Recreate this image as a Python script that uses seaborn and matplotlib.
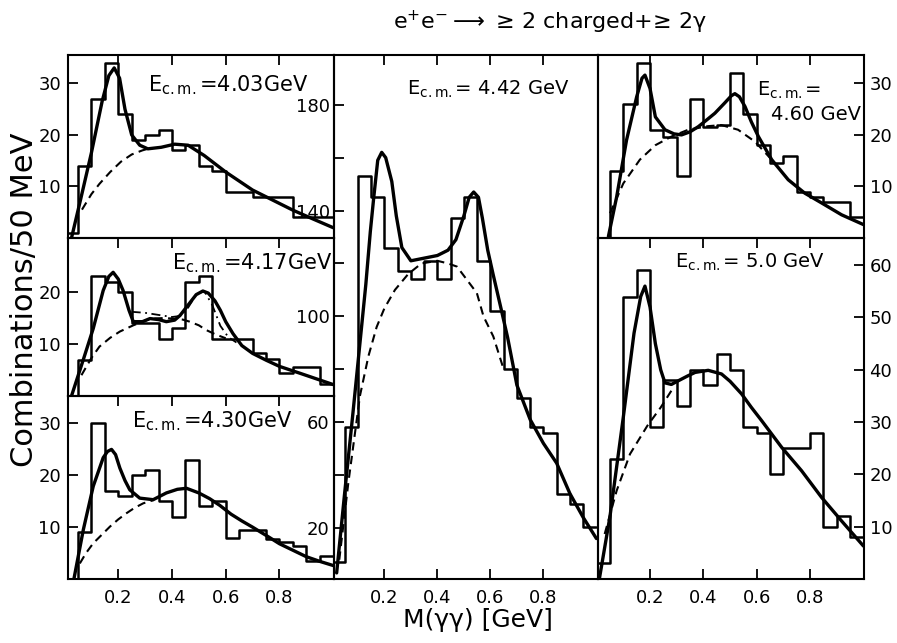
import numpy as np
import pandas as pd
import matplotlib
matplotlib.use("Agg")
import matplotlib.pyplot as plt
import seaborn as sns

sns.set_theme(style="white")
plt.rcParams["font.family"] = ["DejaVu Sans"]
plt.rcParams["mathtext.fontset"] = "dejavusans"

# ---------------- data ----------------
bin_edges = [0.00, 0.05, 0.10, 0.15, 0.20, 0.25, 0.30, 0.35, 0.40, 0.45, 0.50,
             0.55, 0.60, 0.65, 0.70, 0.75, 0.80, 0.85, 0.90, 0.95, 1.00]

# histogram contents (combinations / 50 MeV)
counts_403 = [1, 14, 27, 34, 24, 19, 20, 21, 17, 18, 14, 13, 9, 9, 8, 8, 8, 4, 4, 4]
counts_417 = [0, 7, 23, 22, 20, 14, 14, 11, 13, 22, 23, 11, 11, 11, 8.2, 7.2, 4.4, 5.6, 5.6, 2.3]
counts_430 = [0, 9, 30, 17, 16, 20, 21, 15, 12, 23, 14, 15, 8, 9.5, 9.5, 7.7, 7.1, 6.4, 3.5, 4.5]
counts_442 = [7, 58, 153, 145, 126, 117, 114, 121, 114, 137, 145, 121, 102, 80, 69, 58, 56, 33, 29, 20.5]
counts_460 = [0, 13, 26, 34, 21, 19.5, 12, 27, 21.5, 22, 32, 24, 18, 14.5, 16, 9, 8, 7, 7, 4]
counts_500 = [3, 23, 54, 59, 29, 38, 33, 40, 37, 43, 40, 29, 28, 20, 25, 25, 28, 10, 12, 8]

# fitted curves (solid) and backgrounds (dashed)
fit_403_x = [0.026, 0.06, 0.10, 0.14, 0.165, 0.185, 0.205, 0.225, 0.25, 0.28, 0.31, 0.36, 0.41, 0.46, 0.52, 0.60, 0.70, 0.80, 0.85, 0.92, 1.0]
fit_403_y = [0, 7.5, 16.5, 26.5, 31.5, 33, 31, 25, 20, 18, 17.3, 17.6, 18.2, 18, 16, 12.8, 9.3, 6.7, 5.4, 3.8, 2]
bkg_403_x = [0.065, 0.10, 0.13, 0.17, 0.21, 0.25, 0.29, 0.31]
bkg_403_y = [5.5, 8.5, 10.5, 12.8, 14.8, 16.2, 17.0, 17.3]

fit_417_x = [0.026, 0.07, 0.107, 0.144, 0.165, 0.181, 0.20, 0.218, 0.24, 0.256, 0.29, 0.318, 0.35, 0.379, 0.41, 0.43, 0.46, 0.49, 0.515, 0.535, 0.56, 0.58, 0.60, 0.627, 0.66, 0.70, 0.75, 0.80, 0.875, 1.0]
fit_417_y = [0, 7, 13, 20.3, 23, 23.8, 22.5, 20.3, 16.5, 14.3, 14.3, 14.9, 14.7, 14.3, 14.6, 15.5, 17.5, 19.5, 20.2, 19.8, 18.3, 16.5, 14.3, 12, 9.7, 8.2, 6.9, 5.7, 4.4, 2.2]
bkg_417_x = [0.063, 0.10, 0.13, 0.17, 0.206, 0.256, 0.30, 0.33, 0.37, 0.404, 0.44, 0.466, 0.50, 0.527, 0.56, 0.60]
bkg_417_y = [4, 7.3, 9.5, 11.2, 12.4, 13.6, 14.5, 14.9, 15.0, 14.9, 14.7, 14.3, 13.6, 12.7, 11.9, 11.1]
alt_417_x = [0.25, 0.30, 0.35, 0.40, 0.43, 0.46, 0.49, 0.52, 0.55, 0.58, 0.61, 0.64]
alt_417_y = [16.2, 16.0, 15.6, 15.2, 15.4, 17.0, 19.5, 20.2, 17.5, 13.5, 11.3, 10.3]

fit_430_x = [0.035, 0.07, 0.107, 0.144, 0.16, 0.175, 0.19, 0.206, 0.225, 0.243, 0.28, 0.33, 0.379, 0.42, 0.454, 0.50, 0.54, 0.578, 0.62, 0.66, 0.70, 0.76, 0.80, 0.84, 0.90, 0.95, 1.0]
fit_430_y = [0, 9.5, 17.9, 23.4, 24.6, 25, 24, 21.4, 19, 17.2, 15.6, 15.3, 16.6, 17.3, 17.5, 16.6, 15.5, 14.2, 12.5, 11.2, 10.0, 8.1, 6.8, 5.8, 4.3, 3.4, 2.6]
bkg_430_x = [0.057, 0.08, 0.107, 0.14, 0.169, 0.20, 0.231, 0.26, 0.293, 0.33]
bkg_430_y = [3, 5, 6.9, 8.6, 10.1, 11.5, 12.7, 13.7, 14.6, 15.2]

fit_442_x = [0.02, 0.05, 0.08, 0.11, 0.13, 0.147, 0.16, 0.175, 0.19, 0.205, 0.228, 0.245, 0.266, 0.30, 0.35, 0.40, 0.44, 0.47, 0.50, 0.52, 0.537, 0.555, 0.57, 0.59, 0.61, 0.64, 0.665, 0.70, 0.75, 0.80, 0.85, 0.90, 0.95, 1.0]
fit_442_y = [3, 33, 62, 92, 112, 132, 145, 159, 162, 160, 151, 138, 126, 121, 122, 123, 125, 129, 138, 145, 147, 145, 137, 125, 116, 103, 92, 74, 61, 52, 44.5, 33, 24, 16]
bkg_442_x = [0.03, 0.064, 0.108, 0.14, 0.171, 0.20, 0.24, 0.29, 0.34, 0.40, 0.44, 0.474, 0.51, 0.549, 0.574, 0.611, 0.65]
bkg_442_y = [8, 37, 70, 85, 96, 103, 110, 116, 120, 121, 120, 118.8, 114, 108.8, 100, 92.4, 80]

fit_460_x = [0.044, 0.075, 0.112, 0.15, 0.17, 0.181, 0.20, 0.22, 0.256, 0.29, 0.318, 0.35, 0.381, 0.41, 0.443, 0.48, 0.505, 0.518, 0.535, 0.556, 0.58, 0.606, 0.656, 0.718, 0.78, 0.843, 0.918, 1.0]
fit_460_y = [0.3, 8, 19, 27.4, 31, 31.6, 29, 23.5, 21, 20.2, 20, 20.6, 21.6, 22.8, 24.2, 26.2, 27.6, 28, 27.4, 25.5, 22.5, 19.7, 15.2, 11.3, 8.7, 6.8, 4.5, 2.6]
bkg_460_x = [0.05, 0.10, 0.162, 0.22, 0.281, 0.343, 0.418, 0.468, 0.53, 0.593, 0.656]
bkg_460_y = [4.8, 10.6, 15.2, 18, 19.7, 21, 21.7, 21.9, 21, 18.7, 15.2]

fit_500_x = [0.01, 0.05, 0.10, 0.14, 0.165, 0.181, 0.20, 0.22, 0.24, 0.256, 0.28, 0.306, 0.34, 0.369, 0.418, 0.468, 0.50, 0.543, 0.58, 0.618, 0.693, 0.768, 0.843, 0.918, 1.0]
fit_500_y = [0, 12, 31, 47, 54, 56, 52, 45, 40, 37.5, 37.2, 37.9, 38.8, 39.5, 39.9, 39.2, 37.8, 35.4, 32.8, 30.3, 25.2, 20.7, 15.6, 11.1, 6.3]
bkg_500_x = [0.03, 0.075, 0.125, 0.19, 0.24, 0.28]
bkg_500_y = [8.6, 16.9, 23.9, 29.3, 32.8, 36]

energies = ["4.03", "4.17", "4.30", "4.42", "4.60", "5.0"]
x_tick_values = [0.2, 0.4, 0.6, 0.8]
x_tick_labels = ["0.2", "0.4", "0.6", "0.8"]

# ---------------- layout ----------------
W, H = 897, 643
fig = plt.figure(figsize=(W / 100, H / 100), dpi=100)


def add_ax(l, t, r, b, z=1):
    ax = fig.add_axes([l / W, 1 - b / H, (r - l) / W, (b - t) / H])
    ax.set_zorder(z)
    ax.set_facecolor("none")
    return ax


ax403 = add_ax(68, 55, 334, 238)
ax417 = add_ax(68, 238, 334, 396)
ax430 = add_ax(68, 396, 334, 579)
ax460 = add_ax(598, 55, 864, 238)
ax500 = add_ax(598, 238, 864, 579)
ax442 = add_ax(334, 55, 598, 579, z=2)

centers = [(a + b) / 2 for a, b in zip(bin_edges[:-1], bin_edges[1:])]
dash = (0, (4, 2.6))
dashdot = (0, (5, 2.5, 1, 2.5))


def draw(ax, counts, fx, fy, bx, by):
    sns.histplot(x=centers, weights=counts, bins=bin_edges, element="step",
                 fill=False, color="black", linewidth=1.8, ax=ax)
    sns.lineplot(x=fx, y=fy, ax=ax, color="black", linewidth=2.4,
                 estimator=None, sort=False)
    sns.lineplot(x=bx, y=by, ax=ax, color="black", linewidth=1.5,
                 linestyle=dash, estimator=None, sort=False)
    ax.set_xlabel("")
    ax.set_ylabel("")


draw(ax403, counts_403, fit_403_x, fit_403_y, bkg_403_x, bkg_403_y)
draw(ax417, counts_417, fit_417_x, fit_417_y, bkg_417_x, bkg_417_y)
sns.lineplot(x=alt_417_x, y=alt_417_y, ax=ax417, color="black", linewidth=1.3,
             linestyle=dashdot, estimator=None, sort=False)
draw(ax430, counts_430, fit_430_x, fit_430_y, bkg_430_x, bkg_430_y)
draw(ax442, counts_442, fit_442_x, fit_442_y, bkg_442_x, bkg_442_y)
draw(ax460, counts_460, fit_460_x, fit_460_y, bkg_460_x, bkg_460_y)
draw(ax500, counts_500, fit_500_x, fit_500_y, bkg_500_x, bkg_500_y)

# limits
for ax in (ax403, ax417, ax430):
    ax.set_xlim(0.013, 1.003)
ax442.set_xlim(0.010, 1.006)
for ax in (ax460, ax500):
    ax.set_xlim(0.005, 1.002)
ax403.set_ylim(0, 35.5)
ax417.set_ylim(0, 30.4)
ax430.set_ylim(0, 35.3)
ax442.set_ylim(0.7, 198.8)
ax460.set_ylim(0, 35.5)
ax500.set_ylim(0, 65.2)

# ticks
tick_kw = dict(direction="in", length=7, width=1.3, colors="black", labelsize=13)
bottom_row = (ax430, ax442, ax500)
for ax in (ax403, ax417, ax430, ax442, ax460, ax500):
    ax.set_xticks(x_tick_values)
    ax.set_xticklabels(x_tick_labels)
    is_bottom = ax in bottom_row
    ax.tick_params(axis="x", top=True, bottom=is_bottom, labelbottom=is_bottom,
                   pad=7, **tick_kw)
    for s in ax.spines.values():
        s.set_color("black")
        s.set_linewidth(1.5)

ax403.set_yticks([10, 20, 30])
ax417.set_yticks([10, 20])
ax430.set_yticks([10, 20, 30])
for ax in (ax403, ax417, ax430):
    ax.tick_params(axis="y", left=True, right=False, labelleft=True, pad=5, **tick_kw)

ax442.set_yticks([20, 40, 60, 80, 100, 120, 140, 160, 180])
ax442.set_yticklabels(["20", "", "60", "", "100", "", "140", "", "180"])
ax442.tick_params(axis="y", left=True, right=False, labelleft=True, pad=3, **tick_kw)

ax460.set_yticks([10, 20, 30])
ax500.set_yticks([10, 20, 30, 40, 50, 60])
for ax in (ax460, ax500):
    ax.yaxis.tick_right()
    ax.tick_params(axis="y", left=False, right=True, labelright=True,
                   labelleft=False, pad=4, **tick_kw)

# panel labels
lab_kw = dict(fontsize=15, color="black", va="baseline", ha="left")
lab_kw2 = dict(fontsize=14, color="black", va="baseline")
ax403.text(0.30, 0.80, r"E$_{\mathrm{c.m.}}$=%sGeV" % energies[0], transform=ax403.transAxes, **lab_kw)
ax417.text(0.39, 0.80, r"E$_{\mathrm{c.m.}}$=%sGeV" % energies[1], transform=ax417.transAxes, **lab_kw)
ax430.text(0.24, 0.83, r"E$_{\mathrm{c.m.}}$=%sGeV" % energies[2], transform=ax430.transAxes, **lab_kw)
ax442.text(0.277, 0.925, r"E$_{\mathrm{c.m.}}$= %s GeV" % energies[3], transform=ax442.transAxes, ha="left", **lab_kw2)
ax460.text(0.598, 0.78, r"E$_{\mathrm{c.m.}}$=", transform=ax460.transAxes, ha="left", **lab_kw2)
ax460.text(0.99, 0.645, "%s GeV" % energies[4], transform=ax460.transAxes, ha="right", **lab_kw2)
ax500.text(0.29, 0.912, r"E$_{\mathrm{c.m.}}$= %s GeV" % energies[5], transform=ax500.transAxes, ha="left", **lab_kw2)

# figure texts
fig.text(550 / W, 1 - 22 / H, r"e$^{+}$e$^{-}$$\longrightarrow$ ≥ 2 charged+≥ 2γ",
         ha="center", va="center", fontsize=16, color="black")
fig.text(25 / W, 1 - 300 / H, "Combinations/50 MeV", rotation=90,
         ha="center", va="center", fontsize=22, color="black")
fig.text(478 / W, 1 - 620 / H, "M(γγ) [GeV]", ha="center", va="center",
         fontsize=18, color="black")

fig.savefig("out.png", dpi=100, facecolor="white")
